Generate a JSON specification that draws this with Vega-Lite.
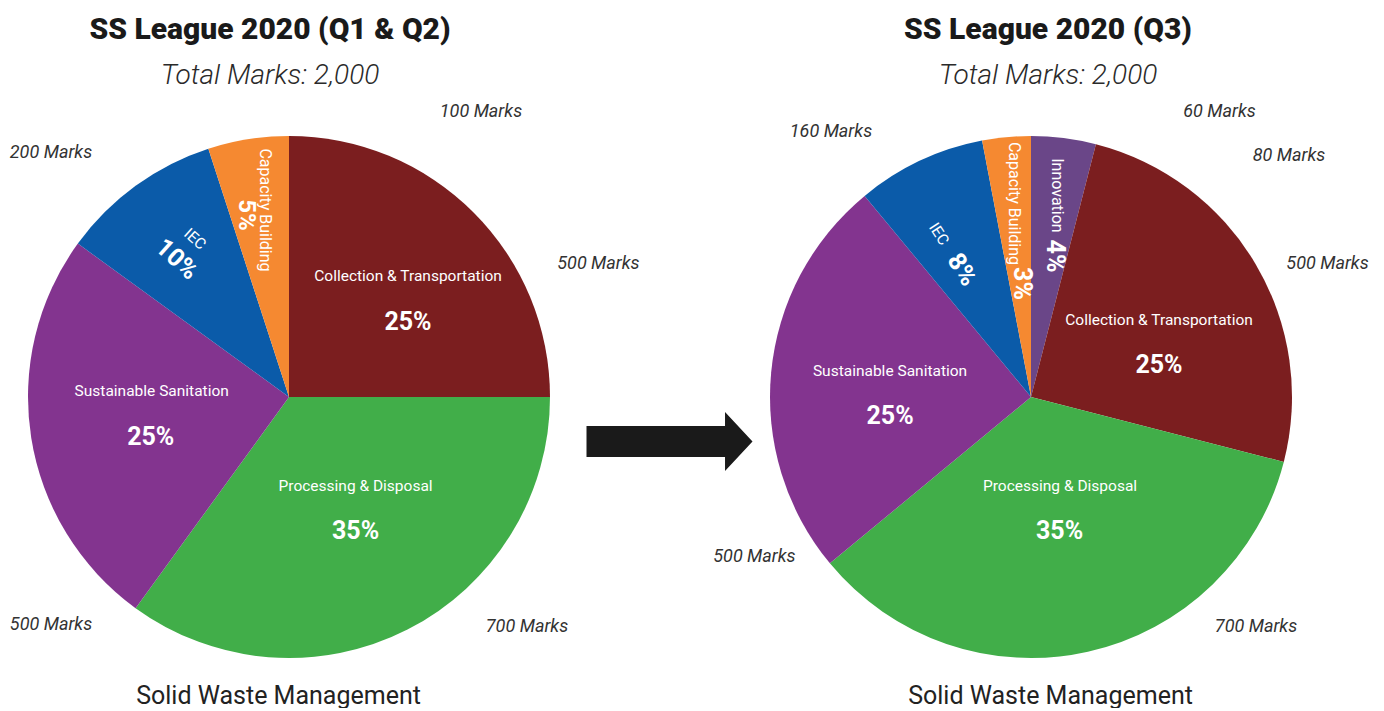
{
  "$schema": "https://vega.github.io/schema/vega-lite/v6.json",
  "background": "white",
  "padding": {"top": 15, "left": 0, "right": 0, "bottom": 0},
  "spacing": 0,
  "bounds": "flush",
  "config": {"view": {"stroke": null}},
  "datasets": {
    "q12": [
      {"category": "Collection & Transportation", "share": 0.25, "marks": 500, "marksLabel": "500 Marks", "order": 1, "topic": "Solid Waste Management"},
      {"category": "Processing & Disposal", "share": 0.35, "marks": 700, "marksLabel": "700 Marks", "order": 2, "topic": "Solid Waste Management"},
      {"category": "Sustainable Sanitation", "share": 0.25, "marks": 500, "marksLabel": "500 Marks", "order": 3, "topic": "Solid Waste Management"},
      {"category": "IEC", "share": 0.10, "marks": 200, "marksLabel": "200 Marks", "order": 4, "topic": "Solid Waste Management"},
      {"category": "Capacity Building", "share": 0.05, "marks": 100, "marksLabel": "100 Marks", "order": 5, "topic": "Solid Waste Management"}
    ],
    "q3": [
      {"category": "Innovation", "share": 0.04, "marks": 80, "marksLabel": "80 Marks", "order": 1, "topic": "Solid Waste Management"},
      {"category": "Collection & Transportation", "share": 0.25, "marks": 500, "marksLabel": "500 Marks", "order": 2, "topic": "Solid Waste Management"},
      {"category": "Processing & Disposal", "share": 0.35, "marks": 700, "marksLabel": "700 Marks", "order": 3, "topic": "Solid Waste Management"},
      {"category": "Sustainable Sanitation", "share": 0.25, "marks": 500, "marksLabel": "500 Marks", "order": 4, "topic": "Solid Waste Management"},
      {"category": "IEC", "share": 0.08, "marks": 160, "marksLabel": "160 Marks", "order": 5, "topic": "Solid Waste Management"},
      {"category": "Capacity Building", "share": 0.03, "marks": 60, "marksLabel": "60 Marks", "order": 6, "topic": "Solid Waste Management"}
    ],
    "arrow": [{"step": "Q1 & Q2 to Q3"}]
  },
  "hconcat": [
    {
      "width": 578,
      "height": 522,
      "data": {"name": "q12"},
      "transform": [
        {"stack": "share", "groupby": [], "sort": [{"field": "order", "order": "ascending"}], "as": ["t0", "t1"]},
        {"fold": ["t0", "t1"], "as": ["edge", "angleValue"]},
        {"aggregate": [{"op": "mean", "field": "angleValue", "as": "mid"}, {"op": "min", "field": "angleValue", "as": "start"}, {"op": "max", "field": "angleValue", "as": "end"}],
         "groupby": ["category", "share", "marks", "marksLabel", "order", "topic"]}
      ],
      "title": {"text": "SS League 2020 (Q1 & Q2)", "subtitle": "Total Marks: 2,000", "font": "Roboto", "fontSize": 30, "fontWeight": 900, "color": "#1a1a1a", "subtitleFont": "Roboto", "subtitleFontSize": 28, "subtitleFontStyle": "italic", "subtitleFontWeight": 300, "subtitleColor": "#2a2a2a", "subtitlePadding": 17, "anchor": "middle", "frame": "group", "dx": -19, "offset": 13},
      "encoding": {
        "theta": {"field": "mid", "type": "quantitative", "stack": null, "scale": {"domain": [0, 1]}}
      },
      "layer": [
        {"mark": {"type": "arc"},
         "encoding": {
           "theta": {"field": "start", "type": "quantitative", "stack": null, "scale": {"domain": [0, 1]}},
           "theta2": {"field": "end"},
           "color": {"field": "category", "type": "nominal", "legend": null,
             "scale": {"domain": ["Collection & Transportation", "Processing & Disposal", "Sustainable Sanitation", "IEC", "Capacity Building", "Innovation"],
                       "range": ["#7B1E1F", "#41AE49", "#83348F", "#0B5BA9", "#F58931", "#6A4688"]}},
           "x": {"field": "topic", "type": "nominal", "scale": {"type": "point"},
             "axis": {"title": null, "domain": false, "ticks": false, "grid": false, "labelFont": "Roboto", "labelFontSize": 25, "labelColor": "#222", "labelPadding": 25, "labelOffset": -11, "labelLimit": 500, "labelAngle": 0}}
         }},
        {"transform": [{"filter": "datum.category === 'Collection & Transportation'"}],
         "mark": {"type": "text", "radius": 140, "dx": 20, "dy": -22, "font": "Roboto", "fontSize": 15.5, "fill": "white", "baseline": "middle"},
         "encoding": {"text": {"field": "category", "type": "nominal"}}},
        {"transform": [{"filter": "datum.category === 'Collection & Transportation'"}],
         "mark": {"type": "text", "radius": 140, "dx": 20, "dy": 24, "font": "Roboto", "fontSize": 25, "fontWeight": "bold", "fill": "white", "baseline": "middle"},
         "encoding": {"text": {"field": "share", "type": "quantitative", "format": ".0%"}}},
        {"transform": [{"filter": "datum.category === 'Processing & Disposal'"}],
         "mark": {"type": "text", "radius": 140, "dx": 3, "dy": -36, "font": "Roboto", "fontSize": 15.5, "fill": "white", "baseline": "middle"},
         "encoding": {"text": {"field": "category", "type": "nominal"}}},
        {"transform": [{"filter": "datum.category === 'Processing & Disposal'"}],
         "mark": {"type": "text", "radius": 140, "dx": 3, "dy": 9, "font": "Roboto", "fontSize": 25, "fontWeight": "bold", "fill": "white", "baseline": "middle"},
         "encoding": {"text": {"field": "share", "type": "quantitative", "format": ".0%"}}},
        {"transform": [{"filter": "datum.category === 'Sustainable Sanitation'"}],
         "mark": {"type": "text", "radius": 140, "dx": 1, "dy": -28, "font": "Roboto", "fontSize": 15.5, "fill": "white", "baseline": "middle"},
         "encoding": {"text": {"field": "category", "type": "nominal"}}},
        {"transform": [{"filter": "datum.category === 'Sustainable Sanitation'"}],
         "mark": {"type": "text", "radius": 140, "dx": 0, "dy": 18, "font": "Roboto", "fontSize": 25, "fontWeight": "bold", "fill": "white", "baseline": "middle"},
         "encoding": {"text": {"field": "share", "type": "quantitative", "format": ".0%"}}},
        {"transform": [{"filter": "datum.category === 'IEC'"}],
         "mark": {"type": "text", "radius": 180, "angle": 42, "dx": 0.5, "dy": -17, "font": "Roboto", "fontSize": 15.5, "fill": "white", "baseline": "middle"},
         "encoding": {"text": {"field": "category", "type": "nominal"}}},
        {"transform": [{"filter": "datum.category === 'IEC'"}],
         "mark": {"type": "text", "radius": 180, "angle": 42, "dx": 0.5, "dy": 10, "font": "Roboto", "fontSize": 25, "fontWeight": "bold", "fill": "white", "baseline": "middle"},
         "encoding": {"text": {"field": "share", "type": "quantitative", "format": ".0%"}}},
        {"transform": [{"filter": "datum.category === 'Capacity Building'"}],
         "mark": {"type": "text", "radius": 188, "angle": 90, "dx": -1.3, "dy": -5, "font": "Roboto", "fontSize": 16, "fill": "white", "baseline": "middle"},
         "encoding": {"text": {"field": "category", "type": "nominal"}}},
        {"transform": [{"filter": "datum.category === 'Capacity Building'"}],
         "mark": {"type": "text", "radius": 188, "angle": 90, "dx": 3.7, "dy": 14, "font": "Roboto", "fontSize": 24, "fontWeight": "bold", "fill": "white", "baseline": "middle"},
         "encoding": {"text": {"field": "share", "type": "quantitative", "format": ".0%"}}},
        {"transform": [{"filter": "datum.category === 'Capacity Building'"}],
         "mark": {"type": "text", "radius": 261, "dx": 232.8, "dy": -27.2, "font": "Roboto", "fontSize": 18, "fontStyle": "italic", "fill": "#333", "baseline": "middle"},
         "encoding": {"text": {"field": "marksLabel", "type": "nominal"}}},
        {"transform": [{"filter": "datum.category === 'IEC'"}],
         "mark": {"type": "text", "radius": 261, "dx": -84.6, "dy": -33.3, "font": "Roboto", "fontSize": 18, "fontStyle": "italic", "fill": "#333", "baseline": "middle"},
         "encoding": {"text": {"field": "marksLabel", "type": "nominal"}}},
        {"transform": [{"filter": "datum.category === 'Collection & Transportation'"}],
         "mark": {"type": "text", "radius": 261, "dx": 124.9, "dy": 51.6, "font": "Roboto", "fontSize": 18, "fontStyle": "italic", "fill": "#333", "baseline": "middle"},
         "encoding": {"text": {"field": "marksLabel", "type": "nominal"}}},
        {"transform": [{"filter": "datum.category === 'Processing & Disposal'"}],
         "mark": {"type": "text", "radius": 261, "dx": 119.5, "dy": -2.6, "font": "Roboto", "fontSize": 18, "fontStyle": "italic", "fill": "#333", "baseline": "middle"},
         "encoding": {"text": {"field": "marksLabel", "type": "nominal"}}},
        {"transform": [{"filter": "datum.category === 'Sustainable Sanitation'"}],
         "mark": {"type": "text", "radius": 261, "dx": 19.8, "dy": 186.7, "font": "Roboto", "fontSize": 18, "fontStyle": "italic", "fill": "#333", "baseline": "middle"},
         "encoding": {"text": {"field": "marksLabel", "type": "nominal"}}}
      ]
    },
    {
      "width": 183,
      "height": 522,
      "data": {"name": "arrow"},
      "mark": {"type": "point", "filled": true, "opacity": 1, "color": "#1a1a1a", "strokeWidth": 0, "size": 27556,
               "shape": "M-1,0.349L0.669,0.349L0.669,0.181L1,0.536L0.669,0.891L0.669,0.723L-1,0.723Z"},
      "encoding": {"detail": {"field": "step", "type": "nominal"}}
    },
    {
      "width": 540,
      "height": 522,
      "data": {"name": "q3"},
      "transform": [
        {"stack": "share", "groupby": [], "sort": [{"field": "order", "order": "ascending"}], "as": ["t0", "t1"]},
        {"fold": ["t0", "t1"], "as": ["edge", "angleValue"]},
        {"aggregate": [{"op": "mean", "field": "angleValue", "as": "mid"}, {"op": "min", "field": "angleValue", "as": "start"}, {"op": "max", "field": "angleValue", "as": "end"}],
         "groupby": ["category", "share", "marks", "marksLabel", "order", "topic"]}
      ],
      "title": {"text": "SS League 2020 (Q3)", "subtitle": "Total Marks: 2,000", "font": "Roboto", "fontSize": 30, "fontWeight": 900, "color": "#1a1a1a", "subtitleFont": "Roboto", "subtitleFontSize": 28, "subtitleFontStyle": "italic", "subtitleFontWeight": 300, "subtitleColor": "#2a2a2a", "subtitlePadding": 17, "anchor": "middle", "frame": "group", "dx": 17, "offset": 13},
      "encoding": {
        "theta": {"field": "mid", "type": "quantitative", "stack": null, "scale": {"domain": [0, 1]}}
      },
      "layer": [
        {"mark": {"type": "arc"},
         "encoding": {
           "theta": {"field": "start", "type": "quantitative", "stack": null, "scale": {"domain": [0, 1]}},
           "theta2": {"field": "end"},
           "color": {"field": "category", "type": "nominal", "legend": null,
             "scale": {"domain": ["Collection & Transportation", "Processing & Disposal", "Sustainable Sanitation", "IEC", "Capacity Building", "Innovation"],
                       "range": ["#7B1E1F", "#41AE49", "#83348F", "#0B5BA9", "#F58931", "#6A4688"]}},
           "x": {"field": "topic", "type": "nominal", "scale": {"type": "point"},
             "axis": {"title": null, "domain": false, "ticks": false, "grid": false, "labelFont": "Roboto", "labelFontSize": 25, "labelColor": "#222", "labelPadding": 25, "labelOffset": 19, "labelLimit": 500, "labelAngle": 0}}
         }},
        {"transform": [{"filter": "datum.category === 'Collection & Transportation'"}],
         "mark": {"type": "text", "radius": 140, "dx": 7.5, "dy": -6, "font": "Roboto", "fontSize": 15.5, "fill": "white", "baseline": "middle"},
         "encoding": {"text": {"field": "category", "type": "nominal"}}},
        {"transform": [{"filter": "datum.category === 'Collection & Transportation'"}],
         "mark": {"type": "text", "radius": 140, "dx": 7.5, "dy": 39, "font": "Roboto", "fontSize": 25, "fontWeight": "bold", "fill": "white", "baseline": "middle"},
         "encoding": {"text": {"field": "share", "type": "quantitative", "format": ".0%"}}},
        {"transform": [{"filter": "datum.category === 'Processing & Disposal'"}],
         "mark": {"type": "text", "radius": 140, "dx": -1.5, "dy": -47.6, "font": "Roboto", "fontSize": 15.5, "fill": "white", "baseline": "middle"},
         "encoding": {"text": {"field": "category", "type": "nominal"}}},
        {"transform": [{"filter": "datum.category === 'Processing & Disposal'"}],
         "mark": {"type": "text", "radius": 140, "dx": -2, "dy": -2.6, "font": "Roboto", "fontSize": 25, "fontWeight": "bold", "fill": "white", "baseline": "middle"},
         "encoding": {"text": {"field": "share", "type": "quantitative", "format": ".0%"}}},
        {"transform": [{"filter": "datum.category === 'Sustainable Sanitation'"}],
         "mark": {"type": "text", "radius": 140, "dx": -1.6, "dy": -12.8, "font": "Roboto", "fontSize": 15.5, "fill": "white", "baseline": "middle"},
         "encoding": {"text": {"field": "category", "type": "nominal"}}},
        {"transform": [{"filter": "datum.category === 'Sustainable Sanitation'"}],
         "mark": {"type": "text", "radius": 140, "dx": -1.6, "dy": 32, "font": "Roboto", "fontSize": 25, "fontWeight": "bold", "fill": "white", "baseline": "middle"},
         "encoding": {"text": {"field": "share", "type": "quantitative", "format": ".0%"}}},
        {"transform": [{"filter": "datum.category === 'IEC'"}],
         "mark": {"type": "text", "radius": 165, "angle": 57, "dx": -23.3, "dy": 10.8, "font": "Roboto", "fontSize": 15.5, "fill": "white", "baseline": "middle"},
         "encoding": {"text": {"field": "category", "type": "nominal"}}},
        {"transform": [{"filter": "datum.category === 'IEC'"}],
         "mark": {"type": "text", "radius": 165, "angle": 57, "dx": 19, "dy": 10.8, "font": "Roboto", "fontSize": 25, "fontWeight": "bold", "fill": "white", "baseline": "middle"},
         "encoding": {"text": {"field": "share", "type": "quantitative", "format": ".0%"}}},
        {"transform": [{"filter": "datum.category === 'Capacity Building'"}],
         "mark": {"type": "text", "radius": 177, "angle": 90, "dx": -17.3, "dy": 0.8, "font": "Roboto", "fontSize": 16, "fill": "white", "baseline": "middle"},
         "encoding": {"text": {"field": "category", "type": "nominal"}}},
        {"transform": [{"filter": "datum.category === 'Capacity Building'"}],
         "mark": {"type": "text", "radius": 177, "angle": 90, "dx": 62.7, "dy": -7.4, "font": "Roboto", "fontSize": 25, "fontWeight": "bold", "fill": "white", "baseline": "middle"},
         "encoding": {"text": {"field": "share", "type": "quantitative", "format": ".0%"}}},
        {"transform": [{"filter": "datum.category === 'Innovation'"}],
         "mark": {"type": "text", "radius": 185, "angle": 90, "dx": -18, "dy": -3.3, "font": "Roboto", "fontSize": 16, "fill": "white", "baseline": "middle"},
         "encoding": {"text": {"field": "category", "type": "nominal"}}},
        {"transform": [{"filter": "datum.category === 'Innovation'"}],
         "mark": {"type": "text", "radius": 185, "angle": 90, "dx": 42.5, "dy": -0.8, "font": "Roboto", "fontSize": 25, "fontWeight": "bold", "fill": "white", "baseline": "middle"},
         "encoding": {"text": {"field": "share", "type": "quantitative", "format": ".0%"}}},
        {"transform": [{"filter": "datum.category === 'Capacity Building'"}],
         "mark": {"type": "text", "radius": 261, "dx": 213.1, "dy": -25.1, "font": "Roboto", "fontSize": 18, "fontStyle": "italic", "fill": "#333", "baseline": "middle"},
         "encoding": {"text": {"field": "marksLabel", "type": "nominal"}}},
        {"transform": [{"filter": "datum.category === 'IEC'"}],
         "mark": {"type": "text", "radius": 261, "dx": -88.9, "dy": -28.8, "font": "Roboto", "fontSize": 18, "fontStyle": "italic", "fill": "#333", "baseline": "middle"},
         "encoding": {"text": {"field": "marksLabel", "type": "nominal"}}},
        {"transform": [{"filter": "datum.category === 'Innovation'"}],
         "mark": {"type": "text", "radius": 261, "dx": 225.3, "dy": 17.9, "font": "Roboto", "fontSize": 18, "fontStyle": "italic", "fill": "#333", "baseline": "middle"},
         "encoding": {"text": {"field": "marksLabel", "type": "nominal"}}},
        {"transform": [{"filter": "datum.category === 'Collection & Transportation'"}],
         "mark": {"type": "text", "radius": 261, "dx": 71.9, "dy": -0.2, "font": "Roboto", "fontSize": 18, "fontStyle": "italic", "fill": "#333", "baseline": "middle"},
         "encoding": {"text": {"field": "marksLabel", "type": "nominal"}}},
        {"transform": [{"filter": "datum.category === 'Processing & Disposal'"}],
         "mark": {"type": "text", "radius": 261, "dx": 168.1, "dy": -24.7, "font": "Roboto", "fontSize": 18, "fontStyle": "italic", "fill": "#333", "baseline": "middle"},
         "encoding": {"text": {"field": "marksLabel", "type": "nominal"}}},
        {"transform": [{"filter": "datum.category === 'Sustainable Sanitation'"}],
         "mark": {"type": "text", "radius": 261, "dx": -16.7, "dy": 184.6, "font": "Roboto", "fontSize": 18, "fontStyle": "italic", "fill": "#333", "baseline": "middle"},
         "encoding": {"text": {"field": "marksLabel", "type": "nominal"}}}
      ]
    }
  ]
}
